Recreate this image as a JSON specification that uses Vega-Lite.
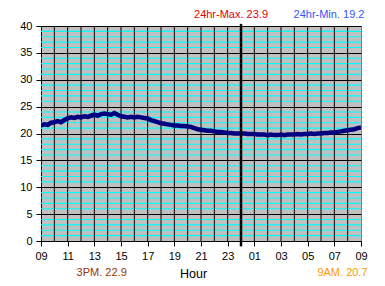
{
  "$schema": "https://vega.github.io/schema/vega-lite/v6.json",
  "autosize": "none",
  "width": 320,
  "height": 215,
  "padding": {"left": 41, "top": 26, "right": 24, "bottom": 45},
  "background": "#FFFFFF",
  "config": {
    "font": "Liberation Sans",
    "view": {"fill": "#C0C0C0", "stroke": "#808080", "strokeWidth": 1},
    "axis": {"labelFont": "Liberation Sans", "titleFont": "Liberation Sans", "labelColor": "#000000", "titleColor": "#000000", "domainColor": "#000000", "tickColor": "#000000", "titleFontWeight": "normal"}
  },
  "resolve": {"axis": {"x": "independent", "y": "independent"}},
  "layer": [
    {
      "data": {"values": [
        {"v":1},{"v":2},{"v":3},{"v":4},{"v":6},{"v":7},{"v":8},{"v":9},
        {"v":11},{"v":12},{"v":13},{"v":14},{"v":16},{"v":17},{"v":18},{"v":19},
        {"v":21},{"v":22},{"v":23},{"v":24},{"v":26},{"v":27},{"v":28},{"v":29},
        {"v":31},{"v":32},{"v":33},{"v":34},{"v":36},{"v":37},{"v":38},{"v":39}
      ]},
      "mark": {"type": "rule", "color": "#00FFFF", "strokeWidth": 1.1},
      "encoding": {
        "y": {"field": "v", "type": "quantitative", "scale": {"domain": [0, 40], "nice": false}, "axis": null}
      }
    },
    {
      "data": {"values": [
        {"hr":1},{"hr":2},{"hr":3},{"hr":4},{"hr":5},{"hr":6},{"hr":7},{"hr":8},
        {"hr":9},{"hr":10},{"hr":11},{"hr":12},{"hr":13},{"hr":14},{"hr":16},
        {"hr":17},{"hr":18},{"hr":19},{"hr":20},{"hr":21},{"hr":22},{"hr":23}
      ]},
      "mark": {"type": "rule", "color": "#000000", "strokeWidth": 1},
      "encoding": {
        "x": {"field": "hr", "type": "quantitative", "scale": {"domain": [0, 24], "nice": false, "zero": false}, "axis": null}
      }
    },
    {
      "data": {"values": [
        {"h":0,"t":21.5},{"h":0.25,"t":21.7},{"h":0.5,"t":21.6},{"h":0.75,"t":22.0},
        {"h":1,"t":22.1},{"h":1.25,"t":22.3},{"h":1.5,"t":22.1},{"h":1.75,"t":22.5},
        {"h":2,"t":22.8},{"h":2.25,"t":23.0},{"h":2.5,"t":22.9},{"h":2.75,"t":23.1},
        {"h":3,"t":23.0},{"h":3.25,"t":23.2},{"h":3.5,"t":23.1},{"h":3.75,"t":23.3},
        {"h":4,"t":23.5},{"h":4.25,"t":23.3},{"h":4.5,"t":23.6},{"h":4.75,"t":23.7},
        {"h":5,"t":23.6},{"h":5.25,"t":23.5},{"h":5.5,"t":23.8},{"h":5.75,"t":23.5},
        {"h":6,"t":23.2},{"h":6.25,"t":23.1},{"h":6.5,"t":23.0},{"h":6.75,"t":23.1},
        {"h":7,"t":23.0},{"h":7.25,"t":23.1},{"h":7.5,"t":23.0},{"h":7.75,"t":22.9},
        {"h":8,"t":22.8},{"h":8.25,"t":22.5},{"h":8.5,"t":22.3},{"h":8.75,"t":22.1},
        {"h":9,"t":21.9},{"h":9.25,"t":21.8},{"h":9.5,"t":21.7},{"h":9.75,"t":21.6},
        {"h":10,"t":21.5},{"h":10.25,"t":21.5},{"h":10.5,"t":21.4},{"h":10.75,"t":21.4},
        {"h":11,"t":21.3},{"h":11.25,"t":21.2},{"h":11.5,"t":21.0},{"h":11.75,"t":20.8},
        {"h":12,"t":20.7},{"h":12.25,"t":20.6},{"h":12.5,"t":20.5},{"h":12.75,"t":20.5},
        {"h":13,"t":20.4},{"h":13.25,"t":20.3},{"h":13.5,"t":20.3},{"h":13.75,"t":20.2},
        {"h":14,"t":20.1},{"h":14.25,"t":20.1},{"h":14.5,"t":20.0},{"h":14.75,"t":20.0},
        {"h":15,"t":20.0},{"h":15.25,"t":20.0},{"h":15.5,"t":19.9},{"h":15.75,"t":19.9},
        {"h":16,"t":19.9},{"h":16.25,"t":19.8},{"h":16.5,"t":19.8},{"h":16.75,"t":19.8},
        {"h":17,"t":19.7},{"h":17.25,"t":19.8},{"h":17.5,"t":19.7},{"h":17.75,"t":19.7},
        {"h":18,"t":19.8},{"h":18.25,"t":19.7},{"h":18.5,"t":19.8},{"h":18.75,"t":19.8},
        {"h":19,"t":19.8},{"h":19.25,"t":19.9},{"h":19.5,"t":19.8},{"h":19.75,"t":19.9},
        {"h":20,"t":19.9},{"h":20.25,"t":20.0},{"h":20.5,"t":19.9},{"h":20.75,"t":20.0},
        {"h":21,"t":20.0},{"h":21.25,"t":20.1},{"h":21.5,"t":20.1},{"h":21.75,"t":20.2},
        {"h":22,"t":20.2},{"h":22.25,"t":20.3},{"h":22.5,"t":20.4},{"h":22.75,"t":20.5},
        {"h":23,"t":20.6},{"h":23.25,"t":20.7},{"h":23.5,"t":20.8},{"h":23.75,"t":21.0},
        {"h":24,"t":21.1}
      ]},
      "mark": {"type": "line", "color": "#000080", "strokeWidth": 4.5, "clip": true},
      "encoding": {
        "x": {"field": "h", "type": "quantitative",
          "scale": {"domain": [0, 24], "nice": false, "zero": false},
          "axis": {
            "values": [0,2,4,6,8,10,12,14,16,18,20,22,24],
            "labelExpr": "(((datum.value + 9) % 24) < 10 ? '0' : '') + ((datum.value + 9) % 24)",
            "labelFlush": false, "labelOverlap": false, "labelFontSize": 11, "labelPadding": 4,
            "tickSize": 5, "grid": false, "orient": "bottom",
            "title": "Hour", "titleFontSize": 12.5, "titlePadding": 6, "titleX": 152
          }},
        "y": {"field": "t", "type": "quantitative",
          "scale": {"domain": [0, 40], "nice": false},
          "axis": {
            "values": [0,5,10,15,20,25,30,35,40],
            "labelOverlap": false, "labelFontSize": 11, "labelPadding": 4,
            "tickSize": 5, "grid": true, "gridColor": "#000000", "gridOpacity": 1, "orient": "left",
            "title": null
          }}
      }
    },
    {
      "data": {"values": [{"label": "midnight"}]},
      "mark": {"type": "rule", "color": "#000000", "strokeWidth": 2.5, "clip": false},
      "encoding": {
        "x": {"datum": 15, "type": "quantitative", "scale": {"domain": [0, 24], "nice": false, "zero": false}, "axis": null},
        "y": {"datum": 40.4, "type": "quantitative", "scale": {"domain": [0, 40], "nice": false}, "axis": null},
        "y2": {"datum": -1.0}
      }
    },
    {
      "data": {"values": [{"label": "24hr-Max. 23.9"}]},
      "mark": {"type": "text", "color": "#E00000", "fontSize": 11, "font": "Liberation Sans", "align": "center", "baseline": "alphabetic", "clip": false},
      "encoding": {
        "x": {"datum": 14.25, "type": "quantitative", "scale": {"domain": [0, 24], "nice": false, "zero": false}, "axis": null},
        "y": {"datum": 41.43, "type": "quantitative", "scale": {"domain": [0, 40], "nice": false}, "axis": null},
        "text": {"field": "label"}
      }
    },
    {
      "data": {"values": [{"label": "24hr-Min. 19.2"}]},
      "mark": {"type": "text", "color": "#3355FF", "fontSize": 11, "font": "Liberation Sans", "align": "center", "baseline": "alphabetic", "clip": false},
      "encoding": {
        "x": {"datum": 21.6, "type": "quantitative", "scale": {"domain": [0, 24], "nice": false, "zero": false}, "axis": null},
        "y": {"datum": 41.43, "type": "quantitative", "scale": {"domain": [0, 40], "nice": false}, "axis": null},
        "text": {"field": "label"}
      }
    },
    {
      "data": {"values": [{"label": "3PM. 22.9"}]},
      "mark": {"type": "text", "color": "#993300", "fontSize": 11, "font": "Liberation Sans", "align": "center", "baseline": "alphabetic", "clip": false},
      "encoding": {
        "x": {"datum": 4.55, "type": "quantitative", "scale": {"domain": [0, 24], "nice": false, "zero": false}, "axis": null},
        "y": {"datum": -6.51, "type": "quantitative", "scale": {"domain": [0, 40], "nice": false}, "axis": null},
        "text": {"field": "label"}
      }
    },
    {
      "data": {"values": [{"label": "9AM. 20.7"}]},
      "mark": {"type": "text", "color": "#FF9900", "fontSize": 11, "font": "Liberation Sans", "align": "center", "baseline": "alphabetic", "clip": false},
      "encoding": {
        "x": {"datum": 22.61, "type": "quantitative", "scale": {"domain": [0, 24], "nice": false, "zero": false}, "axis": null},
        "y": {"datum": -6.51, "type": "quantitative", "scale": {"domain": [0, 40], "nice": false}, "axis": null},
        "text": {"field": "label"}
      }
    }
  ]
}
